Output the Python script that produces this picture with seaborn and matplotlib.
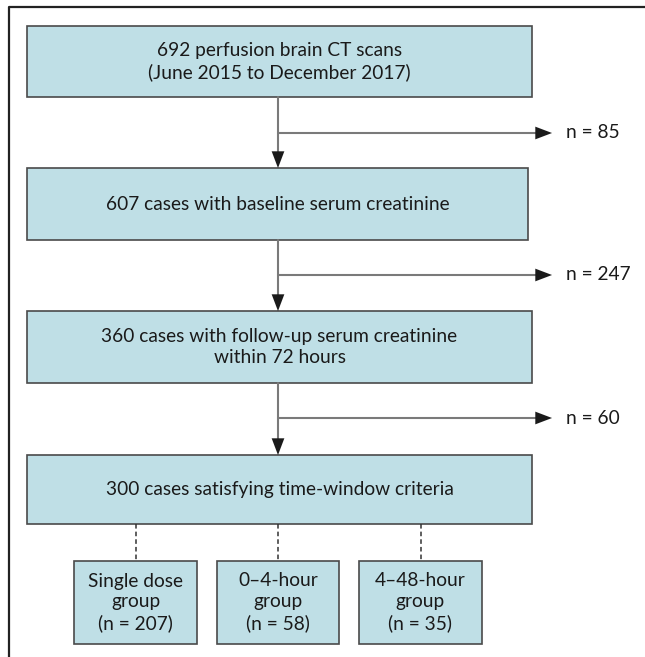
import matplotlib
matplotlib.use("Agg")
import matplotlib.pyplot as plt
import seaborn as sns
from matplotlib.patches import Rectangle

sns.set_theme(style="white")
plt.rcParams['font.family'] = ['Lato', 'DejaVu Sans']

# ---- data ----
main_labels = [
    "692 perfusion brain CT scans\n(June 2015 to December 2017)",
    "607 cases with baseline serum creatinine",
    "360 cases with follow-up serum creatinine\nwithin 72 hours",
    "300 cases satisfying time-window criteria",
]
excluded = [85, 247, 60]
group_labels = [
    "Single dose\ngroup\n(n = 207)",
    "0\u20134-hour\ngroup\n(n = 58)",
    "4\u201348-hour\ngroup\n(n = 35)",
]

# ---- layout (pixel coords) ----
W, H = 645, 657
fill = "#bfdfe6"
edge = "#4a4a4a"
line_c = "#7a7a7a"
head_c = "#1a1a1a"
fs = 13.8

main_boxes = [(27, 26, 505, 71), (27, 168, 501, 72), (27, 311, 505, 72), (27, 455, 505, 69)]
exc_y = [133, 275, 418]
group_boxes = [(74, 561, 123, 83), (217, 561, 122, 83), (359, 561, 123, 83)]
cx = 278

fig = plt.figure(figsize=(W / 100, H / 100), dpi=100)
ax = fig.add_axes([0, 0, 1, 1])
ax.set_xlim(0, W)
ax.set_ylim(H, 0)
ax.axis("off")

# outer frame
ax.plot([9, 9, W + 5], [H + 5, 7, 7], color="#222222", lw=1.6, solid_capstyle="butt")

def arrow_head(x, y, dx, dy):
    ax.annotate("", xy=(x, y), xytext=(x - dx, y - dy),
                arrowprops=dict(arrowstyle="-|>,head_length=1.0,head_width=0.38",
                                color=head_c, lw=0.01, shrinkA=0, shrinkB=0))

for (x, y, w, h), lab in zip(main_boxes, main_labels):
    ax.add_patch(Rectangle((x, y), w, h, facecolor=fill, edgecolor=edge, lw=1.2))
    ax.text(x + w / 2, y + h / 2, lab, ha="center", va="center", fontsize=fs,
            linespacing=1.25, color="#1a1a1a")

for i, n in enumerate(excluded):
    top = main_boxes[i][1] + main_boxes[i][3]
    nxt = main_boxes[i + 1][1]
    ax.plot([cx, cx], [top, nxt - 10], color=line_c, lw=1.5)
    arrow_head(cx, nxt, 0, 2)
    ax.plot([cx, 540], [exc_y[i], exc_y[i]], color=line_c, lw=1.5)
    arrow_head(552, exc_y[i], 2, 0)
    ax.text(566, exc_y[i], f"n = {n}", ha="left", va="center", fontsize=fs, color="#1a1a1a")

btm = main_boxes[3][1] + main_boxes[3][3]
for (x, y, w, h), lab in zip(group_boxes, group_labels):
    xc = x + w / 2
    ax.plot([xc, xc], [btm, y], color="#333333", lw=1.1, ls=(0, (3, 2)))
    ax.add_patch(Rectangle((x, y), w, h, facecolor=fill, edgecolor=edge, lw=1.2))
    ax.text(xc, y + h / 2, lab, ha="center", va="center", fontsize=fs,
            linespacing=1.28, color="#1a1a1a")

fig.savefig("out.png", dpi=100)
